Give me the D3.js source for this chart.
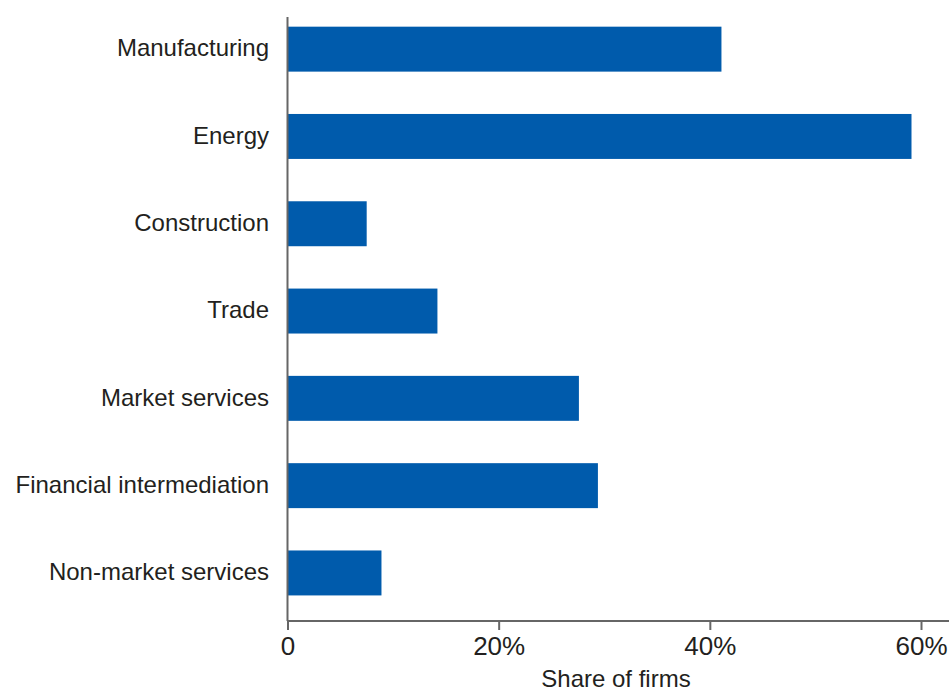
<!DOCTYPE html>
<html>
<head>
<meta charset="utf-8">
<script src="https://cdn.jsdelivr.net/npm/d3@7"></script>
<style>
  body { margin: 0; background: #fff; }
  text { font-family: "Liberation Sans", Arial, sans-serif; fill: #231f20; }
</style>
</head>
<body>
<div class="content"></div>
<script>
////////// data /////////
var sectors = ['Manufacturing', 'Energy', 'Construction', 'Trade',
  'Market services', 'Financial intermediation', 'Non-market services'];
var shares = [41.1, 59.1, 7.5, 14.2, 27.6, 29.4, 8.9];
var ticks = [0, 20, 40, 60];
var tickLabels = ['0', '20%', '40%', '60%'];

var width = 949, height = 693;

var svg = d3.select('.content').append('svg')
  .attr('width', width)
  .attr('height', height);

// scales
var x = d3.scaleLinear()
  .domain([0, 60])
  .range([287.5, 921]);

var y = d3.scaleBand()
  .domain(sectors)
  .range([5.5, 616.6])
  .paddingInner(0.485)
  .paddingOuter(0.2425);

// bars
svg.append('g').selectAll('rect')
  .data(sectors)
  .enter().append('rect')
  .attr('x', x(0))
  .attr('y', function(d) { return y(d); })
  .attr('height', y.bandwidth())
  .attr('width', function(d, i) { return x(shares[i]) - x(0); })
  .style('fill', '#005bac');

// category labels
svg.append('g').selectAll('text')
  .data(sectors)
  .enter().append('text')
  .attr('x', 269)
  .attr('y', function(d) { return y(d) + y.bandwidth() / 2; })
  .attr('dy', '0.3em')
  .attr('text-anchor', 'end')
  .style('font-size', '24px')
  .text(function(d) { return d; });

// y axis line
svg.append('line')
  .attr('x1', x(0)).attr('x2', x(0))
  .attr('y1', 17).attr('y2', 621)
  .style('stroke', '#666')
  .style('stroke-width', 2);

// x axis
var xAxis = svg.append('g')
  .attr('transform', 'translate(0,621)')
  .call(d3.axisBottom(x)
    .tickValues(ticks)
    .tickSize(9)
    .tickPadding(7)
    .tickFormat(function(d, i) { return tickLabels[i]; }));

xAxis.select('.domain')
  .attr('d', 'M' + x(0) + ',0H' + width)
  .style('stroke', '#666')
  .style('stroke-width', 2);
xAxis.selectAll('.tick line')
  .style('stroke', '#666')
  .style('stroke-width', 2);
xAxis.selectAll('.tick text')
  .style('font-size', '26px')
  .style('font-family', '"Liberation Sans", Arial, sans-serif')
  .style('fill', '#231f20');

// axis title
svg.append('text')
  .attr('x', 616)
  .attr('y', 687)
  .attr('text-anchor', 'middle')
  .style('font-size', '24px')
  .text('Share of firms');
</script>
</body>
</html>
